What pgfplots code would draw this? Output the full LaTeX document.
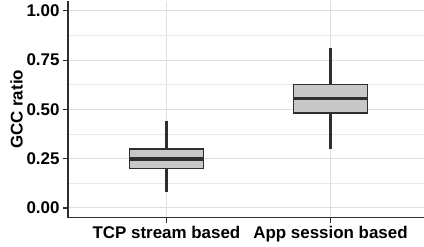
\documentclass[border=0pt]{standalone}
\usepackage{fontspec}
\setmainfont{Liberation Sans}
\usepackage{pgfplots}
\pgfplotsset{compat=1.18}
\usepgfplotslibrary{statistics}
\definecolor{gridc}{HTML}{DEDEDE}
\definecolor{gridm}{HTML}{E8E8E8}
\definecolor{boxc}{HTML}{2E2E2E}
\definecolor{fillc}{HTML}{C8C8C8}
\begin{document}
\begin{tikzpicture}
\begin{axis}[
  at={(68bp,29.2bp)}, anchor=south west,
  scale only axis, width=356bp, height=216.8bp,
  xmin=0.4, xmax=2.57, ymin=-0.05, ymax=1.05,
  axis lines*=left,
  axis line style={draw=black!82, line width=1.2bp},
  xtick={1,2}, xticklabels={TCP stream based, App session based},
  ytick={0,0.25,0.5,0.75,1},
  minor ytick={0.125,0.375,0.625,0.875},
  grid=both,
  major grid style={draw=gridc, line width=1bp},
  minor grid style={draw=gridm, line width=0.6bp},
  tick style={draw=black!82, line width=1.2bp},
  tick align=outside, major tick length=5bp, minor tick length=0pt,
  yticklabel style={/pgf/number format/.cd, fixed, fixed zerofill, precision=2, assume math mode=true},
  ticklabel style={font=\fontsize{17}{20}\selectfont\bfseries, text=black},
  ylabel={GCC ratio},
  ylabel shift=-3bp,
  ylabel style={font=\fontsize{17}{20}\selectfont\bfseries},
  boxplot/draw direction=y,
]
% whiskers
\addplot[draw=boxc, line width=2.2bp, mark=none] coordinates {(1,0.083) (1,0.443)};
\addplot[draw=boxc, line width=2.2bp, mark=none] coordinates {(2,0.298) (2,0.811)};
% boxes
\addplot+[draw=boxc, line width=1.6bp, fill=fillc, mark=none, solid,
  boxplot/every median/.style={line width=3.5bp},
  boxplot/every whisker/.style={draw=none, fill=none},
  boxplot prepared={draw position=1, box extend=0.45,
    lower whisker=0.083, lower quartile=0.200, median=0.249,
    upper quartile=0.300, upper whisker=0.443}]
  coordinates {};
\addplot+[draw=boxc, line width=1.6bp, fill=fillc, mark=none, solid,
  boxplot/every median/.style={line width=3.5bp},
  boxplot/every whisker/.style={draw=none, fill=none},
  boxplot prepared={draw position=2, box extend=0.45,
    lower whisker=0.298, lower quartile=0.481, median=0.555,
    upper quartile=0.626, upper whisker=0.811}]
  coordinates {};
\end{axis}
\pgfresetboundingbox
\path[use as bounding box] (0,0) rectangle (424bp,247bp);
\end{tikzpicture}
\end{document}
